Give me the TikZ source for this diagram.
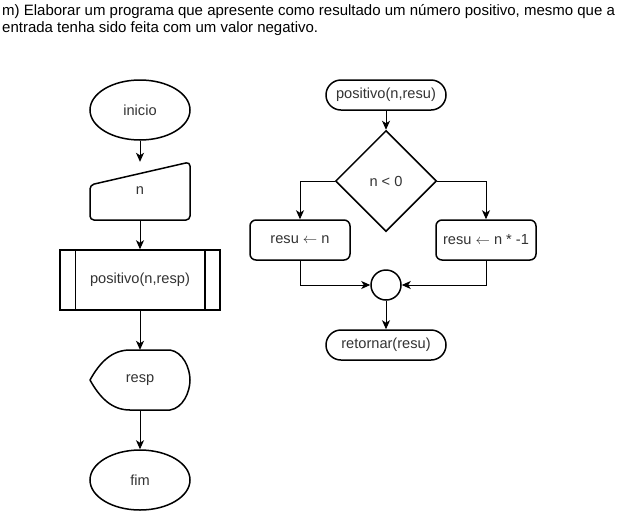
\documentclass[tikz,border=0pt]{standalone}
\usepackage{fontspec}
\setmainfont{Liberation Sans}
\usetikzlibrary{arrows.meta,shapes.geometric,calc}
\definecolor{txtc}{HTML}{333333}
\tikzset{
  shp/.style={draw=black, line width=1.5pt, text=txtc, font=\fontsize{14.6}{17}\selectfont, inner sep=0pt},
  ghost/.style={text=txtc, font=\fontsize{14.6}{17}\selectfont, inner sep=0pt},
  outline/.style={draw=black, line width=1.5pt, line join=round},
  arr/.style={draw=black, line width=1pt, -{Stealth[length=9pt,width=8pt,inset=2.5pt]}},
}
\newcommand{\larr}{$\leftarrow$}
\begin{document}
\begin{tikzpicture}[x=1pt,y=-1pt]
\useasboundingbox (0,0) rectangle (631,512);
\fill[white] (0,0) rectangle (631,512);

\node[anchor=north west, align=left, font=\fontsize{15}{17}\selectfont, inner sep=0pt] (title) at (2,4)
  {m) Elaborar um programa que apresente como resultado um número positivo, mesmo que a\\entrada tenha sido feita com um valor negativo.};

% left column
\node[shp, ellipse, minimum width=100, minimum height=60] (inicio) at (140,110) {inicio};
\node[ghost, minimum width=100, minimum height=58] (n) at (140,191) {n};
\draw[outline, rounded corners=4] (90,220) -- (90,185) -- (190,162) -- (190,220) -- cycle;
\node[shp, rectangle, minimum width=160, minimum height=60] (proc) at (140,280) {positivo(n,resp)};
\draw[outline] ($(proc.north west)+(16,0)$) -- ($(proc.south west)+(16,0)$);
\draw[outline] ($(proc.north east)+(-16,0)$) -- ($(proc.south east)+(-16,0)$);
\node[ghost, minimum width=100, minimum height=60] (resp) at (140,380) {resp};
\draw[outline] (90,380) .. controls (100,362) and (112,350) .. (130,350) -- (170,350)
  .. controls (183,352) and (190,368) .. (190,380)
  .. controls (190,392) and (183,408) .. (170,410) -- (130,410)
  .. controls (112,410) and (100,398) .. (90,380) -- cycle;
\node[shp, ellipse, minimum width=100, minimum height=60] (fim) at (140,480) {fim};

\draw[arr] (inicio.south) -- (n.north);
\draw[arr] (n.south) -- (proc.north);
\draw[arr] (proc.south) -- (resp.north);
\draw[arr] (resp.south) -- (fim.north);

% right column
\node[shp, rectangle, rounded corners=15, minimum width=120, minimum height=30] (sub) at (386,95) {positivo(n,resu)};
\node[shp, diamond, minimum width=101, minimum height=101] (dec) at (386,181) {n < 0};
\node[shp, rectangle, rounded corners=6, minimum width=100, minimum height=40] (a1) at (300,240) {resu \larr{} n};
\node[shp, rectangle, rounded corners=6, minimum width=100, minimum height=40] (a2) at (486,240) {resu \larr{} n * -1};
\node[shp, circle, minimum size=30] (j) at (386,285) {};
\node[shp, rectangle, rounded corners=15, minimum width=120, minimum height=30] (ret) at (386,345) {retornar(resu)};

\draw[arr] (sub.south) -- (dec.north);
\draw[arr] (dec.west) -| (a1.north);
\draw[arr] (dec.east) -| (a2.north);
\draw[arr] (a1.south) |- (j.west);
\draw[arr] (a2.south) |- (j.east);
\draw[arr] (j.south) -- (ret.north);
\end{tikzpicture}
\end{document}
